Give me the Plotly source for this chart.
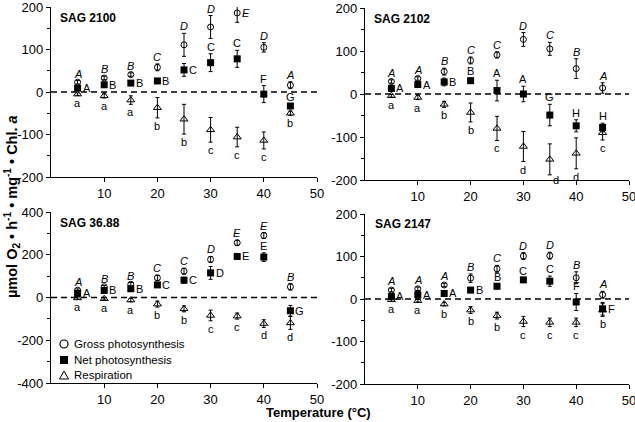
import plotly.graph_objects as go

temps = [5, 10, 15, 20, 25, 30, 35, 40, 45]
strains = ["SAG 2100", "SAG 2102", "SAG 36.88", "SAG 2147"]
series_names = ["Gross photosynthesis", "Net photosynthesis", "Respiration"]

gross_2100 = [23, 33, 41, 58, 111, 153, 186, 105, 16]
gross_err_2100 = [4, 4, 4, 8, 27, 27, 22, 11, 8]
net_2100 = [9, 17, 21, 26, 52, 69, 78, -5, -33]
net_err_2100 = [3, 3, 3, 3, 15, 21, 20, 20, 5]
resp_2100 = [-5, -9, -19, -37, -64, -89, -106, -114, -50]
resp_err_2100 = [3, 5, 10, 24, 35, 29, 23, 20, 5]
gl_2100 = ["A", "B", "B", "C", "D", "D", "E", "D", "A"]
nl_2100 = ["A", "B", "B", "B", "C", "C", "C", "F", "G"]
rl_2100 = ["a", "a", "a", "b", "b", "c", "c", "c", "b"]

gross_2102 = [29, 36, 52, 78, 91, 127, 105, 59, 14]
gross_err_2102 = [4, 4, 8, 8, 7, 16, 15, 23, 12]
net_2102 = [13, 22, 28, 31, 8, 0, -49, -74, -78]
net_err_2102 = [7, 6, 9, 6, 24, 18, 25, 14, 10]
resp_2102 = [-4, -8, -24, -43, -80, -122, -152, -138, -90]
resp_err_2102 = [3, 5, 7, 22, 28, 35, 36, 36, 17]
gl_2102 = ["A", "A", "B", "C", "C", "D", "C", "B", "A"]
nl_2102 = ["A", "A", "B", "B", "A", "A", "G", "H", "H"]
rl_2102 = ["a", "a", "b", "b", "c", "d", "d", "d", "c"]

gross_3688 = [34, 50, 62, 92, 123, 178, 256, 290, 50]
gross_err_3688 = [6, 6, 8, 12, 14, 14, 12, 14, 15]
net_3688 = [19, 33, 41, 59, 81, 115, 192, 189, -62]
net_err_3688 = [6, 6, 6, 10, 14, 30, 6, 20, 25]
resp_3688 = [-2, -6, -12, -31, -53, -84, -87, -122, -119]
resp_err_3688 = [5, 5, 8, 14, 14, 25, 14, 18, 30]
gl_3688 = ["A", "B", "B", "C", "C", "D", "E", "E", "B"]
nl_3688 = ["A", "B", "B", "C", "C", "D", "E", "E", "G"]
rl_3688 = ["a", "a", "a", "b", "b", "c", "c", "d", "d"]

gross_2147 = [21, 24, 33, 49, 71, 101, 102, 50, 10]
gross_err_2147 = [4, 4, 4, 10, 8, 8, 8, 14, 8]
net_2147 = [6, 10, 13, 21, 30, 45, 42, -7, -23]
net_err_2147 = [3, 3, 3, 6, 6, 5, 12, 20, 15]
resp_2147 = [-2, -4, -12, -26, -39, -53, -55, -55, -26]
resp_err_2147 = [3, 3, 4, 8, 8, 12, 10, 10, 15]
gl_2147 = ["A", "A", "A", "B", "C", "D", "D", "B", "A"]
nl_2147 = ["A", "A", "A", "B", "B", "C", "C", "F", "F"]
rl_2147 = ["a", "a", "b", "b", "b", "c", "c", "c", "b"]

yticks_small = [-200, -100, 0, 100, 200]
yticks_large = [-400, -200, 0, 200, 400]
xticks = [10, 20, 30, 40, 50]

# label placement: 'a' above, 'r' right, 'b' below, 'br' below-right
place = {
    "SAG 2100": (["a"] * 6 + ["r"] + ["a"] * 2,
                 ["r", "r", "r", "r", "r", "a", "a", "a", "a"],
                 ["b"] * 9),
    "SAG 2102": (["a"] * 9,
                 ["r", "r", "r", "a", "a", "a", "a", "a", "a"],
                 ["b"] * 6 + ["br"] + ["b"] * 2),
    "SAG 36.88": (["a"] * 9,
                  ["r"] * 7 + ["a", "r"],
                  ["b"] * 9),
    "SAG 2147": (["a"] * 9,
                 ["r", "r", "r", "r", "a", "a", "a", "a", "r"],
                 ["b"] * 9),
}

panels = [
    ("SAG 2100", gross_2100, gross_err_2100, net_2100, net_err_2100, resp_2100, resp_err_2100, gl_2100, nl_2100, rl_2100, yticks_small),
    ("SAG 2102", gross_2102, gross_err_2102, net_2102, net_err_2102, resp_2102, resp_err_2102, gl_2102, nl_2102, rl_2102, yticks_small),
    ("SAG 36.88", gross_3688, gross_err_3688, net_3688, net_err_3688, resp_3688, resp_err_3688, gl_3688, nl_3688, rl_3688, yticks_large),
    ("SAG 2147", gross_2147, gross_err_2147, net_2147, net_err_2147, resp_2147, resp_err_2147, gl_2147, nl_2147, rl_2147, yticks_small),
]

W, H = 635, 422
# pixel boxes (left, right, top, bottom)
boxes = [(51, 317, 7, 177), (365, 629, 8, 180), (51, 317, 212, 383), (365, 629, 214, 384)]
title_pos = [(58, 18), (372, 19), (58, 223), (373, 224)]

FONT = "Liberation Sans, Arial, sans-serif"
fig = go.Figure()
annotations = []
shapes = []
layout = {}

def px(x):
    return x / W

def py(y):
    return 1 - y / H

for i, (name, g, ge, n, ne, r, re_, gl, nl, rl, yt) in enumerate(panels):
    k = "" if i == 0 else str(i + 1)
    xa, ya = "x" + k, "y" + k
    L, R, T, B = boxes[i]
    ymax = yt[-1]
    minor_vals = [yt[j] + (yt[1] - yt[0]) / 2 for j in range(len(yt) - 1)]
    layout["xaxis" + k] = dict(
        domain=[px(L), px(R)], anchor=ya, range=[0, 50], automargin=False,
        tickvals=xticks, ticktext=[str(v) for v in xticks], ticklabeloverflow="allow",
        ticks="outside", ticklen=4, tickwidth=1, tickcolor="black",
        showline=True, linecolor="black", linewidth=1.2,
        showgrid=False, zeroline=False,
        tickfont=dict(family=FONT, size=13, color="black"),
    )
    layout["yaxis" + k] = dict(
        domain=[py(B), py(T)], anchor=xa, range=[-ymax, ymax], automargin=False,
        tickvals=yt, ticktext=[str(v) for v in yt], ticklabeloverflow="allow",
        ticks="outside", ticklen=4, tickwidth=1, tickcolor="black",
        minor=dict(tickmode="array", tickvals=minor_vals, ticks="outside", ticklen=3, tickcolor="black"),
        showline=True, linecolor="black", linewidth=1.2,
        showgrid=False, zeroline=False,
        tickfont=dict(family=FONT, size=13, color="black"),
    )
    shapes.append(dict(type="line", xref=xa, yref=ya, x0=0, x1=50, y0=0, y1=0,
                       line=dict(color="black", width=1.6, dash="6px,4px"), layer="below"))
    eb = dict(type="data", thickness=1, width=2, color="black")
    fig.add_trace(go.Scatter(x=temps, y=g, mode="markers", name=series_names[0],
                             xaxis=xa, yaxis=ya, showlegend=False,
                             error_y=dict(array=ge, **eb),
                             marker=dict(symbol="circle-open", size=6, color="black", line=dict(width=1))))
    fig.add_trace(go.Scatter(x=temps, y=n, mode="markers", name=series_names[1],
                             xaxis=xa, yaxis=ya, showlegend=False,
                             error_y=dict(array=ne, **eb),
                             marker=dict(symbol="square", size=7, color="black")))
    fig.add_trace(go.Scatter(x=temps, y=r, mode="markers", name=series_names[2],
                             xaxis=xa, yaxis=ya, showlegend=False,
                             error_y=dict(array=re_, **eb),
                             marker=dict(symbol="triangle-up-open", size=7, color="black", line=dict(width=1))))

    gp, npl, rp = place[name]

    def add_label(txt, x, v, e, pos, italic=False):
        t = f"<i>{txt}</i>" if italic else txt
        base = dict(xref=xa, yref=ya, text=t, showarrow=False,
                    font=dict(family=FONT, size=11, color="#000000"), borderpad=0)
        if pos == "a":
            base.update(x=x, y=v + e, yanchor="bottom", xanchor="center", yshift=0)
        elif pos == "r":
            base.update(x=x, y=v, yanchor="middle", xanchor="left", xshift=4)
        elif pos == "b":
            base.update(x=x, y=v - e, yanchor="top", xanchor="center", yshift=-1)
        elif pos == "br":
            base.update(x=x, y=v - e, yanchor="top", xanchor="left", xshift=2, yshift=2)
        annotations.append(base)

    for j, tp in enumerate(temps):
        add_label(gl[j], tp, g[j], ge[j], gp[j], italic=True)
        add_label(nl[j], tp, n[j], ne[j], npl[j])
        add_label(rl[j], tp, r[j], re_[j], rp[j])

    tx, ty = title_pos[i]
    annotations.append(dict(xref="paper", yref="paper", x=px(tx), y=py(ty),
                            xanchor="left", yanchor="middle", showarrow=False,
                            text=f"<b>{name}</b>", font=dict(family=FONT, size=12, color="black")))

# legend (drawn inside the SAG 36.88 panel)
leg_rows = [344, 360, 375]
for name, yy in zip(series_names, leg_rows):
    annotations.append(dict(xref="paper", yref="paper", x=px(72), y=py(yy),
                            xanchor="left", yanchor="middle", showarrow=False,
                            text=name, font=dict(family=FONT, size=11.5, color="black")))
shapes.append(dict(type="circle", xref="paper", yref="paper",
                   x0=px(60), x1=px(68), y0=py(348), y1=py(340),
                   line=dict(color="black", width=1.2), fillcolor="white"))
shapes.append(dict(type="rect", xref="paper", yref="paper",
                   x0=px(60), x1=px(68), y0=py(364), y1=py(356),
                   line=dict(color="black", width=0), fillcolor="black"))
shapes.append(dict(type="path", xref="paper", yref="paper",
                   path=f"M {px(59.5)} {py(379)} L {px(68.5)} {py(379)} L {px(64)} {py(371)} Z",
                   line=dict(color="black", width=1), fillcolor="white"))

annotations.append(dict(xref="paper", yref="paper", x=px(12), y=py(207), textangle=-90,
                        xanchor="center", yanchor="middle", showarrow=False,
                        text="<b>µmol O<sub>2</sub> • h<sup>-1</sup> • mg<sup>-1</sup> • Chl. <i>a</i></b>",
                        font=dict(family=FONT, size=14.5, color="black")))
annotations.append(dict(xref="paper", yref="paper", x=px(318), y=py(412),
                        xanchor="center", yanchor="middle", showarrow=False,
                        text="<b>Temperature (°C)</b>",
                        font=dict(family=FONT, size=13, color="black")))

fig.update_layout(
    template="none",
    width=W, height=H, margin=dict(l=0, r=0, t=0, b=0, autoexpand=False),
    paper_bgcolor="white", plot_bgcolor="white",
    font=dict(family=FONT, color="black"),
    annotations=annotations, shapes=shapes,
    showlegend=False,
    **layout,
)
fig.write_html("out.html", config={"displayModeBar": False},
               post_script="document.body.style.margin='0';document.body.style.padding='0';document.body.style.overflow='hidden';")
